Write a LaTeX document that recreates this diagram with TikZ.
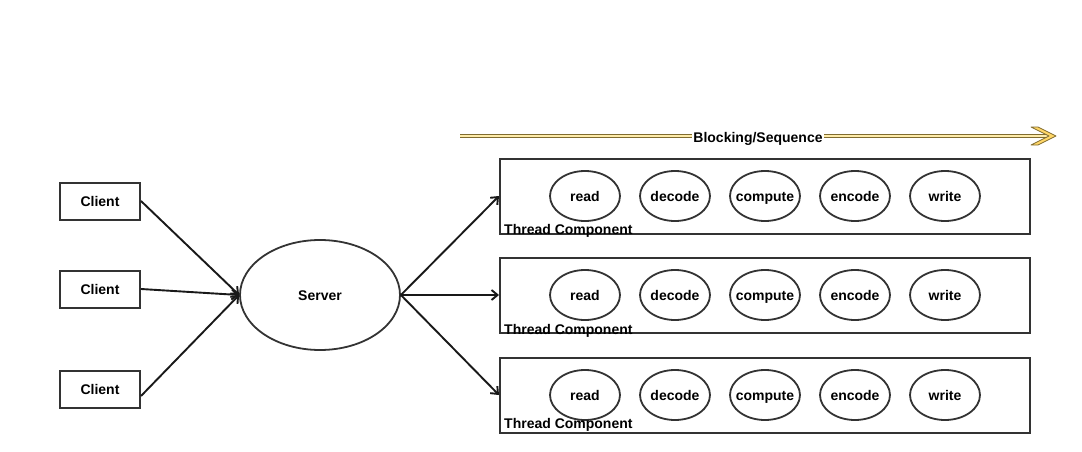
\documentclass[tikz,border=0pt]{standalone}
\usepackage{fontspec}
\setmainfont{Liberation Sans}
\usetikzlibrary{arrows.meta,positioning,shapes.geometric}
\definecolor{thgray}{RGB}{51,51,51}
\definecolor{seqline}{RGB}{128,108,48}
\definecolor{seqfill}{RGB}{255,236,170}
\definecolor{seqhead}{RGB}{255,214,102}
\tikzset{
  lbl/.style={font=\fontsize{14}{16}\selectfont\bfseries, text height=2ex, text depth=0pt},
  client/.style={lbl, draw=thgray, line width=2pt, minimum width=80pt, minimum height=37pt},
  server/.style={lbl, ellipse, draw=thgray, line width=1.8pt, minimum width=160pt, minimum height=110pt,
    inner sep=0pt},
  threadbox/.style={draw=thgray, line width=2pt, minimum width=530pt, minimum height=75pt},
  stage/.style={ellipse, draw=thgray, line width=1.8pt, minimum width=70pt, minimum height=50pt,
    inner sep=0pt, label={[lbl]center:#1}},
  tlabel/.style={anchor=base west, inner sep=0pt, font=\fontsize{14}{16}\selectfont\bfseries},
  conn/.style={-{Straight Barb[length=6pt,width=10pt]}, line width=1.9pt, black!90},
  seqarr/.style={line width=1pt, draw=seqline, double=seqfill, double distance=2.4pt}
}
\begin{document}
\begin{tikzpicture}[x=1pt,y=-1pt]
  \useasboundingbox (0,0) rectangle (1082,452);
  % clients and server
  \node[client] (client1) at (100,201) {Client};
  \node[client] (client2) at (100,289) {Client};
  \node[client] (client3) at (100,389) {Client};
  \node[server] (server) at (320,295) {Server};
  \foreach \c/\dy in {1/0,2/0,3/-7}
    \draw[conn] ([yshift=\dy pt]client\c.east) -- (server.west);
  % thread components
  \foreach \row/\y/\dy in {1/196/0,2/295/-1,3/395/5}{
    \node[threadbox] (thread\row) at (765,\y) {};
    \foreach \name/\x in {read/585,decode/675,compute/765,encode/855,write/945}
      \node[stage=\name] (\name\row) at (\x,\y) {};
    \node[tlabel] (tlab\row) at ([xshift=5pt,yshift=\dy pt]thread\row.south west) {Thread Component};
    \draw[conn] (server.east) -- (thread\row.west);
  }
  % blocking / sequence arrow
  \coordinate (seqstart) at (460,136);
  \coordinate (seqend) at (1049,136);
  \draw[seqarr] (seqstart) -- (seqend);
  \draw[draw=seqline, fill=seqhead, line width=0.8pt, line join=round]
    ([xshift=-11pt,yshift=-9pt]seqend) -- ([xshift=7pt]seqend) -- ([xshift=-11pt,yshift=9pt]seqend)
    -- ([xshift=-18pt,yshift=9pt]seqend) -- ([xshift=0pt]seqend) -- ([xshift=-18pt,yshift=-9pt]seqend) -- cycle;
  \node[lbl, fill=white, inner sep=1.5pt] (seqlab) at (758,137) {Blocking/Sequence};
\end{tikzpicture}
\end{document}
